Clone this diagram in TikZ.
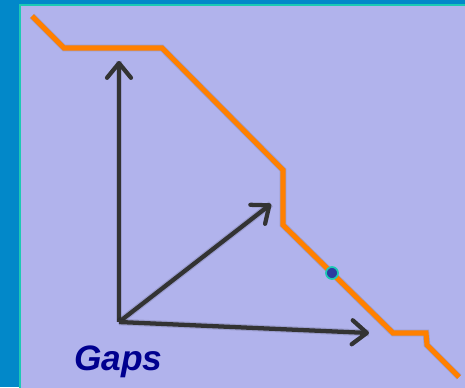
\documentclass[tikz,border=0pt]{standalone}
\usepackage{fontspec}
\setmainfont{Liberation Sans}
\usetikzlibrary{arrows.meta}
\definecolor{bgblue}{HTML}{0288C9}
\definecolor{panel}{HTML}{B1B3EC}
\definecolor{rim}{HTML}{1CC9B4}
\definecolor{gapline}{HTML}{FF8000}
\definecolor{vecgray}{HTML}{333333}
\definecolor{gapsblue}{HTML}{00008F}
\definecolor{dotblue}{HTML}{2A3BA0}
\tikzset{
  vec/.style={vecgray, line width=3.2pt, -{Straight Barb[length=11pt,width=18pt,line width=3.2pt,line cap=round,line join=round]}},
  vecshade/.style={black, opacity=0.12, line width=5pt, shift={(2,3)}},
  gap/.style={gapline, line width=3.8pt},
  gapshade/.style={black, opacity=0.12, line width=5pt, shift={(2,3)}}
}
\begin{document}
\begin{tikzpicture}[x=0.75pt, y=-0.75pt]
            \useasboundingbox (0,0) rectangle (465,387);
            \fill[bgblue] (0,0) rectangle (465,387);
            \fill[panel] (20,5) rectangle (470,392);
            \draw[rim, line width=1.6pt] (20,392) -- (20,5) -- (470,5);
            % the gap profile
            \coordinate (g1) at (32,16);
            \coordinate (g2) at (64,48);
            \coordinate (g3) at (162,48);
            \coordinate (g4) at (283,170);
            \coordinate (g5) at (283,225);
            \coordinate (g6) at (393,333);
            \coordinate (g7) at (426,333);
            \coordinate (g8) at (427,345);
            \coordinate (g9) at (459,377);
            \draw[gapshade] (g1) -- (g2) -- (g3) -- (g4) -- (g5) -- (g6) -- (g7) -- (g8) -- (g9);
            \draw[gap] (g1) -- (g2) -- (g3) -- (g4) -- (g5) -- (g6) -- (g7) -- (g8) -- (g9);
            % vectors
            \coordinate (o) at (119,322);
            \coordinate (up) at (119,61);
            \coordinate (dg) at (271,204);
            \coordinate (rt) at (369,333);
            \foreach \t in {up,dg,rt} {
                \draw[vecshade] (o) -- (\t);
                \draw[vec] (o) -- (\t);
            }
            \node[circle, fill=dotblue, draw=rim, line width=1.3pt, minimum size=9pt, inner sep=0pt] (pt) at (332,273) {};
            \node[anchor=base west, inner sep=0pt, text=gapsblue, font=\fontsize{26.5}{30}\selectfont\bfseries\itshape] (gaps) at (74,370) {Gaps};
        \end{tikzpicture}
\end{document}
